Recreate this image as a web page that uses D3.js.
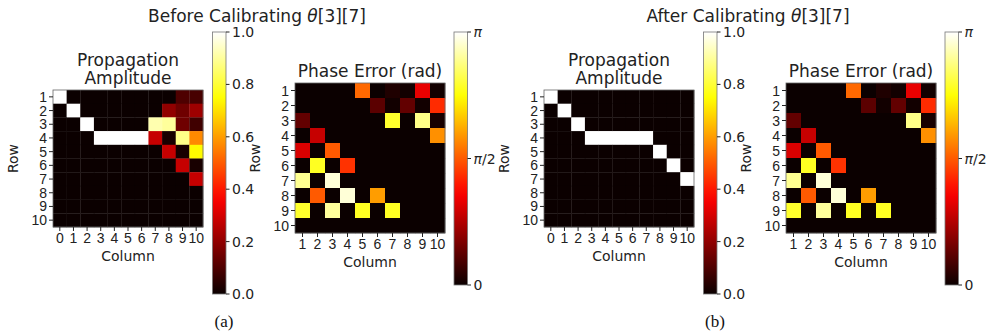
<!DOCTYPE html>
<html>
<head>
<meta charset="utf-8">
<script src="https://cdn.jsdelivr.net/npm/d3@7"></script>
<style>
  body { margin: 0; background: #fff; }
  svg { display: block; font-family: "DejaVu Sans", sans-serif; }
  .tick text { font-size: 14px; fill: #222; }
  .tick line { stroke: #222; }
</style>
</head>
<body>
<script>
// rows / columns of the two maps
const rows = d3.range(1, 11);
const ampCols = d3.range(0, 11);
const phaseCols = d3.range(1, 11);

// propagation amplitude, 0..1
const ampBefore = [
  [1, 0, 0, 0, 0, 0, 0, 0, 0, 0.10, 0.09],
  [0, 1, 0, 0, 0, 0, 0, 0, 0.20, 0.15, 0.22],
  [0, 0, 1, 0, 0, 0, 0, 0.92, 0.90, 0.15, 0.08],
  [0, 0, 0, 1, 1, 1, 1, 0.28, 0.02, 0.88, 0.57],
  [0, 0, 0, 0, 0, 0, 0, 0, 0.28, 0.02, 0.74],
  [0, 0, 0, 0, 0, 0, 0, 0, 0, 0.28, 0.02],
  [0, 0, 0, 0, 0, 0, 0, 0, 0, 0, 0.28],
  [0, 0, 0, 0, 0, 0, 0, 0, 0, 0, 0],
  [0, 0, 0, 0, 0, 0, 0, 0, 0, 0, 0],
  [0, 0, 0, 0, 0, 0, 0, 0, 0, 0, 0]
];
const ampAfter = [
  [1, 0, 0, 0, 0, 0, 0, 0, 0, 0, 0],
  [0, 1, 0, 0, 0, 0, 0, 0, 0, 0, 0],
  [0, 0, 1, 0, 0, 0, 0, 0, 0, 0, 0],
  [0, 0, 0, 1, 1, 1, 1, 1, 0, 0, 0],
  [0, 0, 0, 0, 0, 0, 0, 0, 1, 0, 0],
  [0, 0, 0, 0, 0, 0, 0, 0, 0, 1, 0],
  [0, 0, 0, 0, 0, 0, 0, 0, 0, 0, 1],
  [0, 0, 0, 0, 0, 0, 0, 0, 0, 0, 0],
  [0, 0, 0, 0, 0, 0, 0, 0, 0, 0, 0],
  [0, 0, 0, 0, 0, 0, 0, 0, 0, 0, 0]
];

// phase error in units of pi
const phaseBefore = [
  [0, 0, 0, 0, 0.52, 0, 0.03, 0.01, 0.33, 0.01],
  [0, 0, 0, 0, 0, 0.12, 0.01, 0.13, 0.01, 0.43],
  [0.13, 0, 0, 0, 0, 0, 0.79, 0, 0.88, 0.02],
  [0, 0.28, 0, 0, 0, 0, 0, 0, 0, 0.58],
  [0.31, 0, 0.50, 0, 0, 0, 0, 0, 0, 0],
  [0, 0.78, 0, 0.44, 0, 0, 0, 0, 0, 0],
  [0.89, 0, 0.96, 0, 0, 0, 0, 0, 0, 0],
  [0, 0.50, 0, 0.96, 0, 0.60, 0, 0, 0, 0],
  [0.79, 0, 0.90, 0, 0.78, 0, 0.78, 0, 0, 0],
  [0, 0, 0, 0, 0, 0, 0, 0, 0, 0]
];
const phaseAfter = [
  [0, 0, 0, 0, 0.52, 0, 0.03, 0.01, 0.33, 0.01],
  [0, 0, 0, 0, 0, 0.12, 0.01, 0.13, 0.01, 0.43],
  [0.13, 0, 0, 0, 0, 0, 0, 0, 0.88, 0.02],
  [0, 0.28, 0, 0, 0, 0, 0, 0, 0, 0.58],
  [0.31, 0, 0.50, 0, 0, 0, 0, 0, 0, 0],
  [0, 0.78, 0, 0.44, 0, 0, 0, 0, 0, 0],
  [0.89, 0, 0.96, 0, 0, 0, 0, 0, 0, 0],
  [0, 0.50, 0, 0.96, 0, 0.60, 0, 0, 0, 0],
  [0.79, 0, 0.90, 0, 0.78, 0, 0.78, 0, 0, 0],
  [0, 0, 0, 0, 0, 0, 0, 0, 0, 0]
];

const ampTicks = [0, 0.2, 0.4, 0.6, 0.8, 1.0];
const phaseTicks = [0, 0.5, 1];
const phaseTickLabels = [["", "0"], ["π", "/2"], ["π", ""]];
const panelNames = ["Before", "After"];
const panelTags = ["(a)", "(b)"];

const width = 987, height = 335;

// matplotlib "hot"
const hot = d3.scaleLinear()
  .domain([0, 0.365079, 0.746032, 1])
  .range(["rgb(11,0,0)", "rgb(255,0,0)", "rgb(255,255,0)", "rgb(255,255,255)"])
  .clamp(true);

const svg = d3.select("body").append("svg")
  .attr("width", width)
  .attr("height", height);

const defs = svg.append("defs");
const grad = defs.append("linearGradient")
  .attr("id", "hotgrad")
  .attr("x1", 0).attr("y1", 1).attr("x2", 0).attr("y2", 0);
grad.selectAll("stop")
  .data(d3.range(0, 1.0001, 0.05))
  .enter().append("stop")
  .attr("offset", d => d)
  .attr("stop-color", d => hot(d));

function heatmap(g, data, cols, x0, x1, y0, y1, title) {
  const x = d3.scaleBand().domain(cols).range([x0, x1]);
  const y = d3.scaleBand().domain(rows).range([y0, y1]);

  const cells = [];
  data.forEach((r, i) => r.forEach((v, j) => cells.push({ row: rows[i], col: cols[j], v: v })));

  g.append("g").selectAll("rect")
    .data(cells)
    .enter().append("rect")
    .attr("x", d => x(d.col))
    .attr("y", d => y(d.row))
    .attr("width", x.bandwidth() + 0.3)
    .attr("height", y.bandwidth() + 0.3)
    .attr("fill", d => hot(d.v));

  g.append("rect")
    .attr("x", x0).attr("y", y0)
    .attr("width", x1 - x0).attr("height", y1 - y0)
    .attr("fill", "none")
    .attr("stroke", "#666")
    .attr("stroke-width", 0.8);

  const ax = g.append("g")
    .attr("transform", `translate(0,${y1})`)
    .call(d3.axisBottom(x).tickSize(4).tickPadding(2));
  ax.select(".domain").remove();

  const ay = g.append("g")
    .attr("transform", `translate(${x0},0)`)
    .call(d3.axisLeft(y).tickSize(4).tickPadding(2));
  ay.select(".domain").remove();
  ay.selectAll(".tick text").attr("dy", "0.36em");

  g.append("text")
    .attr("x", (x0 + x1) / 2)
    .attr("y", y1 + 34)
    .attr("text-anchor", "middle")
    .attr("font-size", 14)
    .attr("fill", "#222")
    .text("Column");

  g.append("text")
    .attr("transform", `translate(${x0 - 35},${(y0 + y1) / 2}) rotate(-90)`)
    .attr("text-anchor", "middle")
    .attr("font-size", 14)
    .attr("fill", "#222")
    .text("Row");

  const t = g.append("text")
    .attr("text-anchor", "middle")
    .attr("font-size", 17)
    .attr("fill", "#222");
  title.forEach((line, i) => {
    t.append("tspan")
      .attr("x", (x0 + x1) / 2)
      .attr("y", y0 - 6 - (title.length - 1 - i) * 18.5)
      .text(line);
  });
}

function colorbar(g, x0, y0, y1, ticks, labelFn) {
  const w = 13.5;
  const s = d3.scaleLinear().domain([0, 1]).range([y1, y0]);
  g.append("rect")
    .attr("x", x0).attr("y", y0)
    .attr("width", w).attr("height", y1 - y0)
    .attr("fill", "url(#hotgrad)")
    .attr("stroke", "#777")
    .attr("stroke-width", 0.8);
  const tg = g.selectAll(".cbt")
    .data(ticks)
    .enter().append("g")
    .attr("transform", d => `translate(${x0 + w},${s(d)})`);
  tg.append("line").attr("x2", 3.5).attr("stroke", "#222");
  tg.each(function (d, i) { labelFn(d3.select(this), d, i); });
}

panelNames.forEach((name, p) => {
  const g = svg.append("g").attr("transform", `translate(${p * 491},0)`);
  const amp = p === 0 ? ampBefore : ampAfter;
  const phase = p === 0 ? phaseBefore : phaseAfter;

  const st = g.append("text")
    .attr("x", 257).attr("y", 22)
    .attr("text-anchor", "middle")
    .attr("font-size", 17)
    .attr("fill", "#222");
  st.append("tspan").text(name + " Calibrating ");
  st.append("tspan").attr("font-style", "italic").text("θ");
  st.append("tspan").text("[3][7]");

  heatmap(g, amp, ampCols, 53, 203, 90, 227, ["Propagation", "Amplitude"]);
  colorbar(g, 212.5, 32, 294, ampTicks, (sel, d) => {
    sel.append("text")
      .attr("x", 6).attr("dy", "0.36em")
      .attr("font-size", 14).attr("fill", "#222")
      .text(d3.format(".1f")(d));
  });

  heatmap(g, phase, phaseCols, 295, 445, 83, 233, ["Phase Error (rad)"]);
  colorbar(g, 454, 32, 285, phaseTicks, (sel, d, i) => {
    const t = sel.append("text")
      .attr("x", 6).attr("dy", "0.36em")
      .attr("font-size", 14).attr("fill", "#222");
    t.append("tspan").attr("font-style", "italic").text(phaseTickLabels[i][0]);
    t.append("tspan").text(phaseTickLabels[i][1]);
  });

  g.append("text")
    .attr("x", 224).attr("y", 327)
    .attr("text-anchor", "middle")
    .attr("font-family", "'Liberation Serif', 'Times New Roman', serif")
    .attr("font-size", 17)
    .attr("fill", "#111")
    .text(panelTags[p]);
});
</script>
</body>
</html>
